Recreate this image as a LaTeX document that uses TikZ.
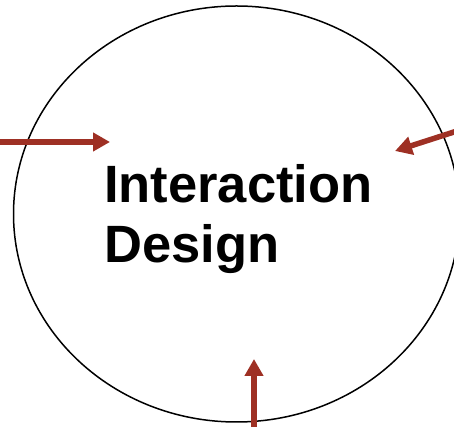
\documentclass[tikz,border=0pt]{standalone}
\usepackage{fontspec}
\setmainfont{Liberation Sans}
\usetikzlibrary{arrows.meta}
\definecolor{arrowred}{RGB}{158,48,36}
\tikzset{
  inarrow/.style={draw=arrowred, line width=5.5pt,
    -{Triangle[length=17pt,width=18pt]}},
  titletext/.style={inner sep=0pt, align=left,
    font=\bfseries\fontsize{52.5}{60}\selectfont}
}
\begin{document}
\begin{tikzpicture}[x=1pt,y=1pt]
  \useasboundingbox (0,0) rectangle (454,427);
  % the boundary ellipse
  \draw[line width=1.5pt] (236.5,213) ellipse [x radius=223, y radius=208];
  % heading (base anchor sits on the last line's baseline)
  \node[titletext, anchor=base west] (title) at (104,164) {Interaction\\Design};
  % arrow ends
  \coordinate (leftstart) at (-5,285);
  \coordinate (lefttip) at (110,285);
  \coordinate (rightstart) at (462,297.6);
  \coordinate (righttip) at (395,276);
  \coordinate (bottomstart) at (254,-5);
  \coordinate (bottomtip) at (254,68);
  \draw[inarrow] (leftstart) -- (lefttip);
  \draw[inarrow] (rightstart) -- (righttip);
  \draw[inarrow] (bottomstart) -- (bottomtip);
\end{tikzpicture}
\end{document}
